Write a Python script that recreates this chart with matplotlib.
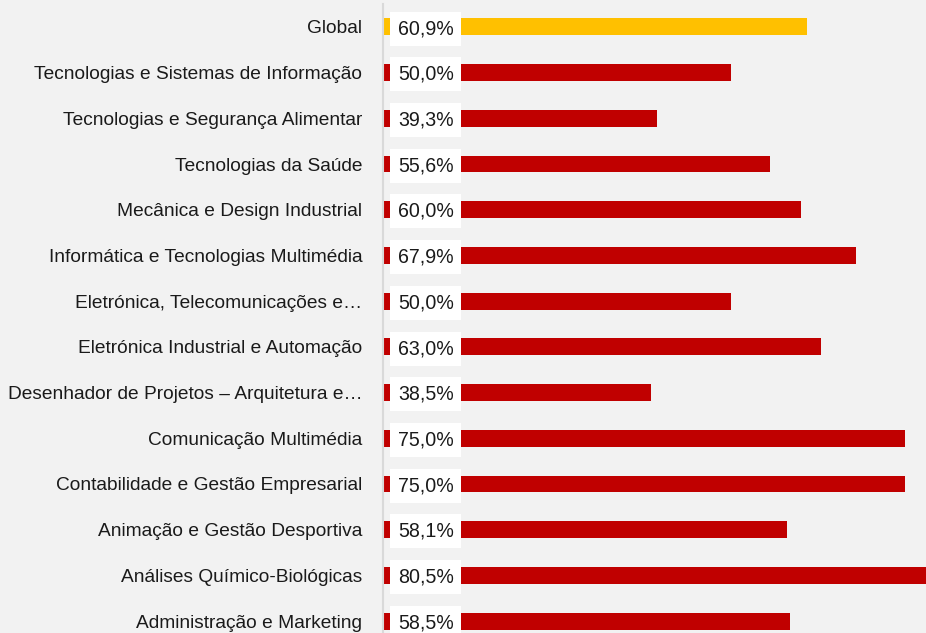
import matplotlib
matplotlib.use("Agg")
import matplotlib.pyplot as plt
from matplotlib import font_manager

categories = [
    "Global",
    "Tecnologias e Sistemas de Informação",
    "Tecnologias e Segurança Alimentar",
    "Tecnologias da Saúde",
    "Mecânica e Design Industrial",
    "Informática e Tecnologias Multimédia",
    "Eletrónica, Telecomunicações e…",
    "Eletrónica Industrial e Automação",
    "Desenhador de Projetos – Arquitetura e…",
    "Comunicação Multimédia",
    "Contabilidade e Gestão Empresarial",
    "Animação e Gestão Desportiva",
    "Análises Químico-Biológicas",
    "Administração e Marketing",
]
values = [60.9, 50.0, 39.3, 55.6, 60.0, 67.9, 50.0, 63.0, 38.5, 75.0, 75.0, 58.1, 80.5, 58.5]
value_labels = ["60,9%", "50,0%", "39,3%", "55,6%", "60,0%", "67,9%", "50,0%", "63,0%",
                "38,5%", "75,0%", "75,0%", "58,1%", "80,5%", "58,5%"]

BG = "#F2F2F2"
RED = "#C00000"
GOLD = "#FFC000"


def pick_font():
    for name in ["Liberation Sans Narrow", "Liberation Sans", "DejaVu Sans"]:
        try:
            font_manager.findfont(font_manager.FontProperties(family=name), fallback_to_default=False)
            return name
        except Exception:
            continue
    return "DejaVu Sans"


FONT = pick_font()
plt.rcParams["font.family"] = [FONT, "DejaVu Sans"]

W, H = 926, 633
fig = plt.figure(figsize=(W / 100, H / 100), dpi=100, facecolor=BG)
renderer = fig.canvas.get_renderer()


def width_at17(s):
    t = fig.text(0, 0, s, fontsize=17)
    w = t.get_window_extent(renderer).width
    t.remove()
    return w


# size fonts so text widths match the reference
cat_size = min(17 * 342.0 / width_at17(categories[1]),
               17 * 357.0 / width_at17(categories[8]))
val_size = 17 * 56.0 / width_at17("60,9%")

top_px, bot_px = 4, 644
left_px, right_px = 383, 926
ax = fig.add_axes([left_px / W, (H - bot_px) / H, (right_px - left_px) / W, (bot_px - top_px) / H])
ax.set_facecolor(BG)

ypos = list(range(len(categories)))
colors = [GOLD] + [RED] * (len(categories) - 1)
ax.barh(ypos, values, height=0.37, color=colors, zorder=2)

ax.set_xlim(0, (right_px - left_px) / 6.96)
ax.set_ylim(len(categories) - 0.5, -0.5)

ax.set_yticks(ypos)
ax.set_yticklabels(categories, fontsize=cat_size, color="#1a1a1a")
ax.tick_params(axis="y", length=0, pad=15)
ax.set_xticks([])
for s in ["top", "right", "bottom"]:
    ax.spines[s].set_visible(False)
ax.spines["left"].set_color("#D9D9D9")
ax.spines["left"].set_linewidth(1.5)
ax.spines["left"].set_zorder(3)

# white box around value text
hpad_pt = 7.5 * 0.72
for y, lab in zip(ypos, value_labels):
    ax.annotate(lab, xy=(0, y), xytext=(15 * 0.72, -1.2), textcoords="offset points",
                ha="left", va="center", fontsize=val_size, color="#1a1a1a", zorder=4,
                bbox=dict(boxstyle="square,pad=%.3f" % (hpad_pt / val_size),
                          facecolor="white", edgecolor="none"))

fig.savefig("out.png", dpi=100, facecolor=BG)
